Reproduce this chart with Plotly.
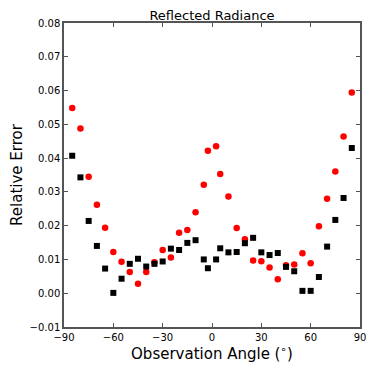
import plotly.graph_objects as go

angles = [-85, -80, -75, -70, -65, -60, -55, -50, -45, -40, -35, -30, -25, -20, -15, -10, -5, -2.5,
          2.5, 5, 10, 15, 20, 25, 30, 35, 40, 45, 50, 55, 60, 65, 70, 75, 80, 85]
red_err = [0.0548, 0.0488, 0.0345, 0.0262, 0.0194, 0.0122, 0.0093, 0.0063, 0.0028, 0.0063, 0.0092, 0.0128,
           0.0106, 0.0179, 0.0187, 0.0240, 0.0321, 0.0422,
           0.0435, 0.0353, 0.0286, 0.0193, 0.0160, 0.0097, 0.0095, 0.0076, 0.0041, 0.0083, 0.0085, 0.0118,
           0.0089, 0.0198, 0.0280, 0.0360, 0.0464, 0.0594]
black_err = [0.0407, 0.0343, 0.0214, 0.0140, 0.0073, 0.0001, 0.0043, 0.0087, 0.0102, 0.0079, 0.0087, 0.0094,
             0.0132, 0.0128, 0.0149, 0.0157, 0.0100, 0.0074,
             0.0100, 0.0133, 0.0121, 0.0122, 0.0148, 0.0164, 0.0121, 0.0113, 0.0119, 0.0078, 0.0065, 0.0007,
             0.0007, 0.0048, 0.0138, 0.0217, 0.0282, 0.0430]
x_ticks = [-90, -60, -30, 0, 30, 60, 90]
y_ticks = [-0.01, 0.0, 0.01, 0.02, 0.03, 0.04, 0.05, 0.06, 0.07, 0.08]

FONT = "DejaVu Sans"

fig = go.Figure()
fig.add_trace(go.Scatter(x=angles, y=red_err, mode="markers",
                         marker=dict(symbol="circle", color="red", size=6.5, line=dict(width=0)),
                         showlegend=False))
fig.add_trace(go.Scatter(x=angles, y=black_err, mode="markers",
                         marker=dict(symbol="square", color="black", size=6, line=dict(width=0)),
                         showlegend=False))

axis_common = dict(showgrid=False, zeroline=False, showline=True, linecolor="#555555", linewidth=1.5,
                   mirror="ticks", ticks="inside", ticklen=4, tickwidth=1, tickcolor="#555555",
                   automargin=False,
                   tickfont=dict(family=FONT, size=10, color="black"))

fig.update_xaxes(range=[-90, 90], tickvals=x_ticks,
                 ticktext=[("\u2212" + str(abs(v))) if v < 0 else str(v) for v in x_ticks],
                 title=dict(text="Observation Angle (<sup>\u2218</sup>)", font=dict(family=FONT, size=15, color="black"),
                            standoff=2),
                 **axis_common)
fig.update_yaxes(range=[-0.01, 0.08], tickvals=y_ticks,
                 ticktext=[("\u2212%.2f" % abs(v)) if v < 0 else "%.2f" % v for v in y_ticks],
                 title=dict(text="Relative Error", font=dict(family=FONT, size=15, color="black"), standoff=6),
                 **axis_common)

# page body has an 8px margin, so the figure is offset by 8px in the window
fig.update_layout(width=366, height=363, margin=dict(l=56, r=14, t=15, b=44, autoexpand=False),
                  paper_bgcolor="white", plot_bgcolor="white",
                  title=dict(text="Reflected Radiance", x=0.5, xanchor="center", xref="paper",
                             yref="container", y=1 - 7 / 363, yanchor="middle",
                             font=dict(family=FONT, size=13, color="black")))

fig.write_html("out.html")
